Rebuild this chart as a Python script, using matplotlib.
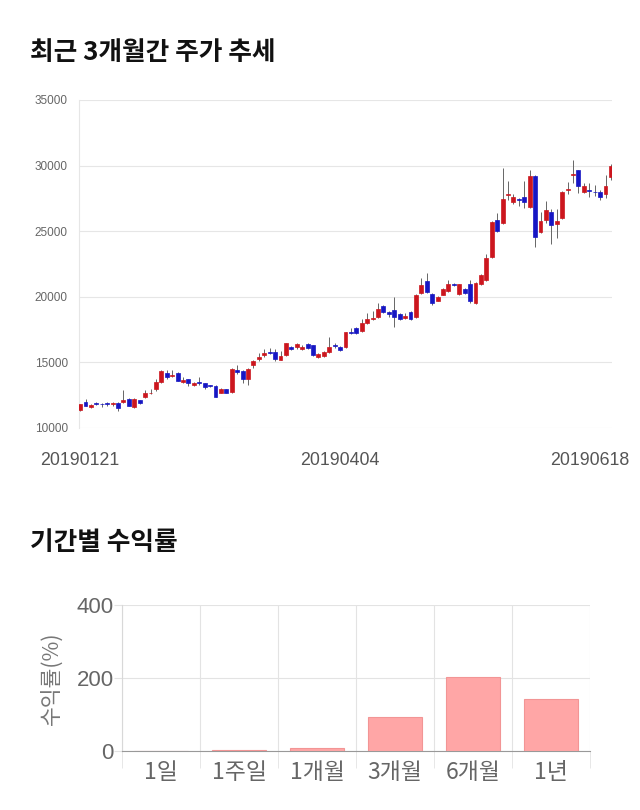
import numpy as np
import matplotlib
matplotlib.use('Agg')
import matplotlib.pyplot as plt
import matplotlib.transforms as mtransforms

plt.rcParams['font.family'] = ['Noto Sans CJK KR', 'DejaVu Sans']

# 일봉 데이터
opens = [11400, 12000, 11600, 11900, 11850, 11880, 11800, 11900, 11950, 12200,
         11600, 12100, 12350, 12650, 12950, 13500, 14200, 13950, 14200, 13500,
         13700, 13300, 13500, 13400, 13250, 13200, 12700, 12950, 12750, 14400,
         14350, 13750, 14800, 15250, 15550, 15800, 15800, 15200, 15550, 16150,
         16150, 16000, 16400, 16300, 15400, 15500, 15800, 16300, 16150, 16150,
         17300, 17600, 17400, 18000, 18300, 18450, 19300, 18850, 19000, 18700,
         18400, 18850, 18450, 20300, 21200, 20200, 19700, 20150, 20450, 21000,
         20200, 20600, 20950, 19550, 21000, 21300, 23050, 25850, 25600, 27750,
         27200, 27450, 27600, 26850, 29200, 24950, 25850, 26450, 25550, 26000,
         28150, 29300, 29650, 28000, 28150, 28000, 28000, 27850, 29150]
closes = [11800, 11700, 11750, 11830, 11800, 11820, 11880, 11500, 12100, 11700,
          12200, 11900, 12650, 12700, 13500, 14350, 13900, 14050, 13600, 13650,
          13400, 13400, 13450, 13150, 13200, 12400, 12950, 12700, 14500, 14300,
          13750, 14500, 15100, 15400, 15700, 15750, 15250, 15500, 16450, 16000,
          16400, 16150, 16100, 15550, 15650, 15800, 16150, 16250, 15950, 17300,
          17250, 17250, 18000, 18300, 18400, 19050, 18850, 18700, 18450, 18300,
          18550, 18300, 20150, 20900, 20350, 19550, 20000, 20600, 20950, 20900,
          20950, 20300, 19700, 21050, 21650, 22950, 25700, 25000, 27450, 27850,
          27600, 27400, 27200, 29200, 24550, 25800, 26600, 25450, 25800, 28000,
          28250, 29350, 28450, 28450, 28100, 27950, 27600, 28450, 29950]
highs = [11850, 12200, 11800, 11950, 11900, 11950, 11950, 11950, 12900, 12250,
         12250, 12150, 12900, 13000, 13700, 14450, 14450, 14400, 14250, 13850,
         13750, 13500, 13900, 13450, 13300, 13300, 13050, 13000, 14550, 14800,
         14400, 14550, 15200, 15700, 16000, 16100, 16050, 15850, 16500, 16250,
         16500, 16300, 16450, 16350, 15700, 15850, 16900, 16500, 16250, 17350,
         17600, 17700, 18300, 18800, 18900, 19500, 19400, 18950, 20000, 18800,
         18800, 18900, 20200, 21400, 21800, 20300, 20050, 20700, 21300, 21050,
         21000, 20700, 21300, 21100, 21700, 23300, 25750, 26400, 29800, 28800,
         27800, 27500, 28850, 29700, 29250, 26500, 27300, 26700, 26700, 28100,
         28750, 30400, 29700, 28700, 28650, 28550, 28150, 29250, 30100]
lows = [11300, 11650, 11550, 11750, 11600, 11700, 11700, 11300, 11900, 11650,
        11550, 11850, 12250, 12600, 12850, 13400, 13700, 13850, 13550, 13450,
        13200, 13200, 13300, 13000, 13150, 12350, 12650, 12650, 12700, 14100,
        13400, 13250, 14600, 15100, 15400, 15650, 15100, 15150, 15500, 15950,
        16050, 15950, 16000, 15500, 15300, 15400, 15750, 16100, 15850, 16100,
        17150, 17150, 17300, 17900, 18200, 18400, 18750, 18450, 17700, 18200,
        18300, 18250, 18400, 20250, 20300, 19400, 19650, 20100, 20400, 20850,
        20150, 20200, 19500, 19450, 20900, 21200, 22950, 24950, 25550, 27400,
        27050, 26950, 26800, 26800, 23800, 24900, 25600, 24000, 24500, 25950,
        27800, 28700, 27900, 27900, 27600, 27650, 27400, 27500, 28900]
date_ticks = [0, 48, 98]
date_labels = ['20190121', '20190404', '20190618']

# 기간별 수익률
periods = ['1일', '1주일', '1개월', '3개월', '6개월', '1년']
returns = [0, 3, 8, 93, 203, 142]

UP = '#cc161e'
DOWN = '#1616c4'

fig = plt.figure(figsize=(6.4, 8.1), dpi=100)

fig.text(30 / 640, 1 - 52 / 810, '최근 3개월간 주가 추세', fontsize=18.5,
         fontweight='bold', va='center', ha='left', color='#111111')
fig.text(30 / 640, 1 - 543 / 810, '기간별 수익률', fontsize=18.5,
         fontweight='bold', va='center', ha='left', color='#111111')

# ---- candle chart
ax = fig.add_axes([79 / 640, 1 - 428 / 810, 533 / 640, 328 / 810])
o = np.array(opens)
c = np.array(closes)
h = np.array(highs)
l = np.array(lows)
idx = np.arange(len(o))
cols = np.where(c >= o, UP, DOWN)

ax.vlines(idx, l, h, color='#666666', lw=0.7, zorder=2)
ax.bar(idx, np.abs(c - o), bottom=np.minimum(o, c), width=0.72,
       color=cols, edgecolor=cols, lw=0.5, zorder=3)

ax.set_ylim(10000, 35000)
ax.set_xlim(-0.2, len(o) - 0.8)
ax.set_yticks(range(10000, 35001, 5000))
ax.grid(axis='y', color='#e6e6e6', lw=0.8)
ax.set_axisbelow(True)
for s in ['top', 'right', 'bottom']:
    ax.spines[s].set_visible(False)
ax.spines['left'].set_color('#e6e6e6')
ax.tick_params(axis='y', length=0, labelsize=8.5, labelcolor='#666666', pad=8)
ax.set_xticks(date_ticks)
ax.set_xticklabels(date_labels)
ax.tick_params(axis='x', length=0, labelsize=12.8, labelcolor='#555555', pad=17)
lbls = ax.get_xticklabels()
lbls[-1].set_ha('right')
lbls[-1].set_transform(lbls[-1].get_transform() +
                       mtransforms.ScaledTranslation(0.18, 0, fig.dpi_scale_trans))
for t in ax.get_yticklabels():
    t.set_family(['Liberation Sans', 'DejaVu Sans'])
for t in lbls:
    t.set_family(['Liberation Sans', 'DejaVu Sans'])

# ---- return bars
bx = fig.add_axes([122 / 640, 1 - 751 / 810, 468 / 640, 146 / 810])
bx.bar(range(len(periods)), returns, width=0.7, color='#ffa6a6',
       edgecolor='#f29595', lw=0.8, zorder=3)
bx.set_xlim(-0.5, len(periods) - 0.5)
bx.set_ylim(0, 400)
bx.set_yticks([0, 200, 400])
bx.set_xticks(np.arange(len(periods) + 1) - 0.5, minor=True)
bx.set_xticks(range(len(periods)))
bx.set_xticklabels(periods)
bx.grid(axis='y', color='#e3e3e3', lw=0.8)
bx.grid(axis='x', which='minor', color='#e3e3e3', lw=0.8)
bx.set_axisbelow(True)
for s in ['top', 'right']:
    bx.spines[s].set_visible(False)
bx.spines['left'].set_color('#d8d8d8')
bx.spines['bottom'].set_color('#999999')
bx.tick_params(axis='x', which='major', length=0, labelsize=16.5,
               labelcolor='#666666', pad=7)
bx.tick_params(axis='x', which='minor', length=12, color='#e3e3e3')
bx.tick_params(axis='y', length=6, color='#e3e3e3', labelsize=16,
               labelcolor='#666666', pad=0)
for t in bx.get_yticklabels():
    t.set_family(['Liberation Sans', 'DejaVu Sans'])
bx.set_ylabel('수익률(%)', fontsize=15.5, color='#777777', labelpad=10)

fig.savefig('out.png', dpi=100)
